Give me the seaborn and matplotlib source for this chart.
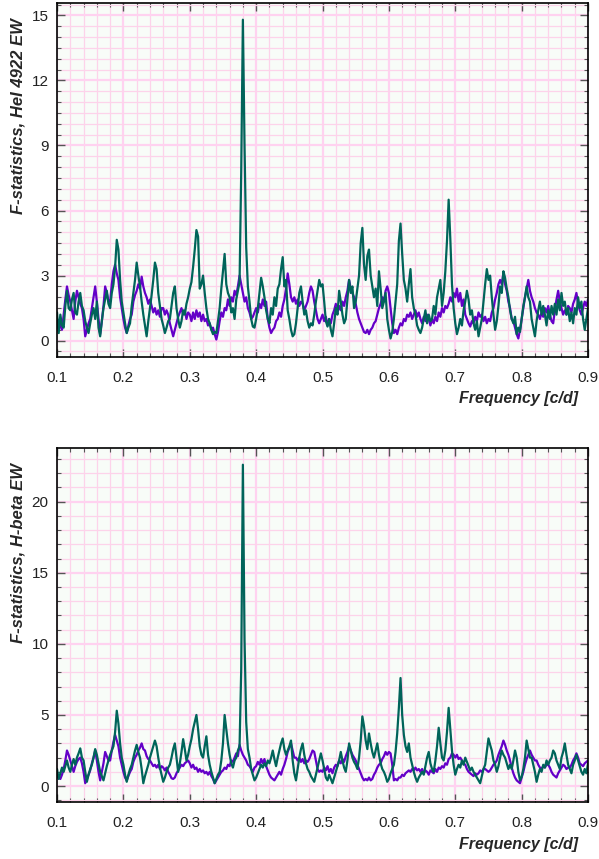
import numpy as np
import pandas as pd
import matplotlib
matplotlib.use('Agg')
import matplotlib.pyplot as plt
from matplotlib.ticker import MultipleLocator
import seaborn as sns

# Frequency grid [c/d], one value every 0.0025
freq = np.round(np.linspace(0.1, 0.9, 321), 4)

# F-statistics, HeI 4922 EW (top panel), one row per 0.05 c/d
purple_hei = [
    0.6, 0.95, 0.7, 0.5, 1.2, 1.9, 2.5, 2.1, 1.8, 1.4, 1.0, 1.8, 2.3, 2.0, 1.7, 1.5, 1.0, 0.2, 0.5, 0.8,
    1.0, 1.5, 2.0, 2.5, 1.8, 1.0, 0.3, 0.9, 1.6, 2.5, 2.2, 1.8, 1.8, 2.6, 3.2, 3.5, 3.1, 2.8, 2.0, 1.5,
    1.0, 0.6, 0.35, 0.7, 1.0, 1.2, 1.8, 2.1, 2.3, 2.6, 2.4, 2.95, 2.5, 2.2, 2.0, 1.7, 1.9, 1.6, 1.3, 1.5,
    1.2, 1.4, 1.1, 1.5, 1.5, 1.2, 1.4, 1.2, 0.8, 0.5, 0.2, 0.5, 0.8, 1.1, 1.3, 1.5, 1.2, 1.4, 1.0, 1.3,
    1.2, 0.9, 1.3, 1.0, 1.4, 1.1, 1.3, 0.9, 1.2, 0.9, 1.0, 0.7, 0.8, 0.5, 0.6, 0.3, 0.05, 0.4, 0.9, 1.3,
    1.1, 1.5, 1.4, 1.9, 1.6, 2.0, 1.8, 2.3, 2.1, 2.5, 3.0, 2.6, 2.2, 1.8, 2.0, 1.5, 1.3, 1.0, 1.1, 1.3,
    1.5, 1.3, 1.7, 1.5, 1.9, 1.6, 1.8, 1.0, 0.6, 0.35, 0.5, 0.6, 0.9, 1.0, 1.3, 1.1, 1.6, 1.9, 2.4, 3.1,
    2.6, 2.0, 1.8, 2.0, 1.7, 1.9, 1.6, 1.8, 1.7, 1.4, 1.6, 1.8, 2.2, 2.5, 2.3, 1.8, 1.4, 1.0, 0.8, 1.0,
    1.2, 0.9, 1.1, 0.7, 1.0, 0.8, 1.2, 1.4, 1.7, 1.3, 1.6, 1.4, 1.8, 1.6, 2.0, 2.3, 2.8, 2.4, 2.2, 2.0,
    1.7, 1.3, 1.0, 0.8, 0.6, 0.4, 0.35, 0.5, 0.3, 0.5, 0.6, 0.8, 0.9, 1.2, 1.5, 1.7, 2.0, 1.8, 2.3, 2.5,
    2.2, 1.5, 0.8, 0.35, 0.5, 0.3, 0.6, 0.8, 0.7, 1.0, 0.9, 1.2, 1.1, 1.3, 1.0, 1.2, 1.4, 1.1, 1.3, 1.0,
    0.8, 1.1, 0.9, 1.2, 1.0, 0.7, 1.0, 0.8, 1.1, 0.9, 1.3, 1.1, 1.5, 1.3, 1.6, 1.5, 1.7, 2.0, 1.8, 2.2,
    2.0, 2.4, 1.8, 2.2, 1.6, 1.9, 1.2, 1.0, 0.8, 0.65, 0.9, 0.8, 1.1, 0.9, 1.3, 1.1, 1.2, 0.9, 1.1, 0.8,
    1.0, 0.9, 1.3, 1.5, 1.9, 2.2, 2.6, 2.8, 2.6, 3.1, 2.6, 2.3, 1.8, 1.5, 1.0, 0.9, 0.6, 0.3, 0.1, 0.5,
    1.0, 1.5, 2.0, 2.4, 2.8, 2.3, 2.0, 1.8, 1.5, 1.3, 1.2, 1.0, 1.3, 1.1, 1.5, 1.3, 1.6, 1.2, 0.9, 0.8,
    1.4, 1.9, 2.3, 1.8, 1.5, 1.2, 1.4, 1.2, 1.6, 1.5, 1.3, 1.7, 1.9, 2.2, 1.7, 1.4, 1.2, 1.5, 1.8, 1.6,
    1.9,
]
teal_hei = [
    1.3, 0.35, 1.2, 0.7, 0.6, 1.6, 2.3, 1.5, 1.4, 1.9, 2.2, 1.3, 1.2, 1.8, 2.2, 1.6, 1.4, 0.9, 0.6, 0.35,
    0.8, 1.2, 1.5, 1.0, 1.8, 0.6, 0.2, 0.9, 1.5, 1.9, 2.3, 1.7, 1.5, 2.2, 2.6, 3.4, 4.65, 4.2, 2.8, 1.8,
    1.3, 0.8, 0.35, 0.6, 0.8, 1.6, 2.2, 2.8, 3.6, 3.0, 2.5, 1.8, 1.2, 0.7, 0.2, 0.9, 1.5, 2.1, 2.8, 3.6,
    3.3, 2.2, 1.6, 1.0, 0.7, 0.35, 0.6, 0.9, 1.0, 1.6, 2.2, 2.5, 1.5, 1.0, 0.6, 0.9, 1.4, 1.2, 1.7, 2.0,
    2.4, 2.7, 3.4, 4.2, 5.1, 4.8, 2.4, 2.6, 3.0, 2.2, 1.5, 1.0, 0.8, 0.5, 0.3, 0.4, 0.35, 0.9, 1.5, 2.4,
    3.2, 4.0, 2.6, 2.2, 2.0, 1.3, 1.5, 1.0, 1.9, 2.3, 2.7, 7.8, 14.8, 9.0, 4.3, 2.5, 1.8, 1.0, 0.65, 0.6,
    1.0, 1.5, 2.2, 2.9, 2.5, 2.0, 1.4, 1.0, 0.8, 1.5, 1.2, 2.0, 1.6, 2.4, 2.6, 3.3, 3.85, 2.5, 2.8, 1.4,
    1.0, 0.5, 0.2, 0.3, 0.8, 1.5, 2.2, 2.5, 1.8, 1.2, 1.4, 0.9, 0.6, 0.8, 0.7, 1.2, 1.8, 2.3, 2.8, 2.5,
    2.6, 1.8, 0.9, 0.65, 1.0, 0.5, 0.2, 0.8, 1.5, 1.2, 2.3, 1.8, 1.2, 0.8, 1.0, 1.9, 2.8, 2.2, 2.5, 1.5,
    1.8, 2.4, 3.0, 4.5, 5.2, 3.5, 2.8, 3.9, 4.2, 3.0, 2.5, 2.0, 2.4, 1.6, 3.2, 2.4, 1.5, 1.8, 2.2, 1.0,
    0.5, 0.1, 0.4, 1.0, 1.8, 2.6, 4.6, 5.4, 4.0, 2.8, 2.4, 1.8, 2.6, 3.3, 2.0, 1.5, 1.2, 0.7, 0.5, 0.35,
    0.6, 1.0, 1.4, 0.8, 1.2, 0.9, 1.0, 1.6, 1.2, 2.0, 2.4, 2.8, 1.6, 2.2, 3.2, 4.6, 6.5, 4.7, 2.6, 1.5,
    0.8, 0.3, 0.6, 1.0, 0.7, 1.4, 1.8, 2.3, 1.9, 1.2, 1.4, 0.8, 0.5, 0.9, 0.2, 0.6, 1.0, 1.8, 2.6, 3.3,
    2.8, 3.0, 2.0, 1.2, 0.5, 0.9, 1.6, 2.5, 2.2, 3.2, 2.9, 2.4, 2.0, 1.4, 1.0, 0.8, 1.1, 0.3, 0.6, 0.4,
    1.0, 1.6, 2.0, 2.5, 2.0, 1.8, 1.0, 0.6, 0.2, 0.9, 1.4, 1.8, 1.2, 1.6, 1.2, 0.7, 1.4, 1.0, 1.6, 1.2,
    1.7, 1.2, 1.9, 1.4, 2.2, 1.6, 1.8, 1.2, 1.5, 0.9, 1.3, 0.8, 1.5, 1.2, 2.0, 1.5, 1.8, 1.0, 0.5, 1.0,
    1.5,
]

# F-statistics, H-beta EW (bottom panel)
purple_hbeta = [
    0.65, 0.6, 0.5, 0.8, 1.2, 1.8, 2.5, 2.2, 1.8, 1.4, 1.0, 1.4, 1.7, 1.9, 2.0, 1.6, 1.0, 0.2, 0.5, 0.8,
    1.1, 1.6, 2.0, 2.5, 1.8, 1.0, 0.4, 1.0, 1.6, 2.4, 2.1, 1.8, 1.8, 2.5, 3.1, 3.6, 3.2, 2.8, 2.0, 1.5,
    1.0, 0.6, 0.4, 0.7, 1.0, 1.2, 1.7, 2.0, 2.2, 2.5, 2.7, 3.0, 2.6, 2.5, 2.1, 1.9, 1.8, 1.6, 1.4, 1.5,
    1.3, 1.5, 1.2, 1.4, 1.3, 1.1, 1.3, 1.0, 0.8, 0.55, 0.5, 0.6, 0.9, 1.1, 1.3, 1.5, 1.4, 1.6, 1.7, 1.8,
    1.6, 1.3, 1.5, 1.2, 1.3, 1.0, 1.2, 1.0, 1.1, 0.9, 1.0, 0.8, 1.0, 0.7, 0.5, 0.2, 0.4, 0.6, 0.8, 1.0,
    1.1, 1.3, 1.2, 1.5, 1.4, 1.8, 1.7, 2.0, 2.3, 2.1, 2.9, 2.5, 2.2, 2.0, 1.8, 1.5, 1.4, 1.2, 1.0, 1.3,
    1.4, 1.7, 1.5, 1.9, 1.6, 1.9, 1.4, 1.1, 0.8, 0.6, 0.5, 0.4, 0.6, 0.8, 1.0, 0.8, 1.2, 1.5, 1.9, 2.4,
    2.7, 3.0, 2.5, 2.0, 2.0, 1.8, 2.0, 1.7, 1.9, 1.6, 1.8, 1.7, 1.9, 2.2, 2.5, 2.4, 1.8, 1.2, 1.0, 1.1,
    1.0, 1.3, 1.1, 1.4, 1.0, 1.2, 0.9, 1.3, 1.5, 1.4, 1.8, 1.6, 1.9, 1.7, 2.1, 2.4, 2.8, 2.5, 2.2, 2.0,
    1.8, 1.5, 1.2, 0.9, 0.6, 0.4, 0.5, 0.4, 0.6, 0.4, 0.5, 0.8, 1.0, 1.3, 1.5, 1.6, 1.9, 2.1, 2.4, 2.2,
    2.4, 2.3, 1.5, 0.4, 0.5, 0.4, 0.6, 0.6, 0.8, 0.7, 0.9, 1.0, 1.1, 1.0, 1.2, 1.1, 1.3, 1.1, 1.2, 1.0,
    1.2, 0.9, 1.1, 1.0, 0.8, 1.1, 1.0, 0.9, 1.2, 1.0, 1.3, 1.2, 1.4, 1.3, 1.6, 1.5, 1.9, 2.0, 2.3, 2.2,
    2.0, 2.2, 1.9, 2.0, 1.8, 1.6, 1.5, 1.2, 1.0, 0.9, 0.8, 0.7, 0.9, 0.8, 0.9, 1.1, 1.0, 1.2, 1.2, 1.1,
    1.0, 1.1, 1.3, 1.5, 1.6, 1.8, 2.2, 2.5, 2.8, 3.2, 2.9, 2.5, 2.2, 1.8, 1.3, 0.9, 0.6, 0.4, 0.3, 0.2,
    0.6, 1.0, 1.5, 1.9, 2.2, 2.5, 2.2, 2.0, 1.8, 1.8, 1.5, 1.3, 1.2, 1.4, 1.3, 1.5, 1.5, 1.3, 1.0, 0.8,
    0.7, 0.6, 0.9, 1.1, 1.3, 1.5, 1.4, 1.2, 1.3, 1.3, 1.5, 1.8, 2.0, 2.3, 2.0, 1.6, 1.5, 1.4, 1.6, 1.7,
    1.8,
]
teal_hbeta = [
    1.2, 0.5, 0.9, 1.3, 1.0, 1.4, 1.8, 1.3, 1.0, 1.5, 1.9, 1.5, 2.0, 2.3, 2.65, 2.0, 1.8, 1.0, 0.3, 0.8,
    1.2, 1.5, 2.0, 2.6, 2.2, 1.6, 1.0, 0.7, 0.4, 0.9, 1.4, 1.8, 2.2, 2.5, 2.8, 3.8, 5.3, 4.4, 3.0, 2.0,
    1.5, 0.8, 0.3, 0.8, 1.2, 1.5, 2.0, 2.5, 2.9, 2.4, 2.0, 1.2, 0.2, 0.7, 1.1, 1.5, 2.0, 2.4, 2.8, 3.2,
    2.8, 2.0, 1.3, 0.8, 0.3, 0.6, 1.0, 1.3, 1.5, 2.0, 2.6, 3.0, 2.0, 1.0, 1.6, 2.4, 3.3, 2.6, 1.8, 2.2,
    2.8, 3.3, 4.0, 4.5, 5.0, 4.0, 2.8, 2.2, 2.0, 2.8, 3.5, 2.2, 1.5, 1.0, 0.6, 0.2, 0.5, 0.8, 1.0, 1.8,
    3.0, 5.0, 4.0, 3.0, 2.2, 1.6, 1.3, 1.8, 2.0, 2.5, 2.8, 8.2, 22.6, 10.3, 4.5, 2.6, 2.0, 1.2, 0.8, 0.4,
    0.6, 0.9, 1.2, 1.5, 1.3, 1.6, 1.4, 1.8, 1.6, 2.0, 2.5, 1.9, 1.4, 2.0, 2.5, 3.0, 3.35, 2.6, 2.2, 2.5,
    2.8, 3.2, 1.8, 0.9, 0.4, 1.2, 2.0, 2.6, 3.0, 2.2, 1.6, 1.2, 1.0, 0.7, 0.5, 0.3, 0.8, 1.3, 1.8, 2.3,
    1.8, 1.2, 0.6, 0.4, 0.8, 0.5, 0.2, 0.6, 1.0, 1.4, 1.8, 2.4, 1.8, 1.3, 1.0, 1.8, 3.0, 2.5, 2.0, 1.7,
    1.5, 1.2, 2.0, 3.2, 4.9, 4.2, 3.2, 2.6, 3.7, 3.0, 2.4, 2.0, 2.5, 3.0, 2.2, 1.6, 1.2, 1.0, 0.7, 0.3,
    0.5, 0.9, 1.2, 1.5, 2.4, 3.7, 5.5, 7.6, 5.0, 3.6, 2.8, 2.4, 3.0, 2.0, 1.5, 1.0, 0.6, 0.3, 0.6, 0.8,
    1.0, 0.8, 1.4, 2.0, 2.4, 1.6, 1.2, 1.0, 1.8, 2.8, 4.1, 3.0, 2.0, 1.8, 2.5, 3.8, 5.5, 4.0, 2.5, 1.5,
    0.8, 1.2, 1.5, 1.3, 1.8, 1.5, 2.0, 1.7, 1.4, 1.1, 1.3, 1.0, 0.8, 0.6, 0.4, 0.2, 0.7, 1.2, 1.5, 2.4,
    3.35, 2.9, 2.5, 1.8, 1.5, 1.0, 1.4, 2.0, 2.5, 2.2, 2.0, 1.6, 1.2, 1.5, 1.2, 1.8, 2.5, 2.0, 1.0, 0.4,
    0.65, 1.2, 2.0, 3.2, 2.6, 2.0, 2.0, 1.5, 1.0, 0.3, 0.8, 1.2, 1.0, 1.5, 1.3, 1.8, 1.5, 1.8, 2.0, 2.5,
    2.3, 1.8, 1.5, 1.2, 2.0, 2.4, 3.0, 2.2, 1.5, 1.2, 0.9, 1.5, 1.8, 2.2, 1.8, 1.4, 1.0, 0.8, 1.2, 0.9,
    1.6,
]

sns.set_theme(style='ticks')
plt.rcParams['font.family'] = ['Liberation Sans', 'DejaVu Sans']

PURPLE = '#6400c8'
TEAL = '#00645a'

fig = plt.figure(figsize=(5.99, 8.59), dpi=100)
fig.patch.set_facecolor('white')
ax_top = fig.add_axes([0.0952, 0.5840, 0.8865, 0.4120])
ax_bot = fig.add_axes([0.0952, 0.0667, 0.8865, 0.4115])


def draw_panel(ax, purple, teal, ylim, ystep, yminor, ylabel, xlab_y):
    df = pd.DataFrame({'freq': freq, 'purple': purple, 'teal': teal})
    ax.set_facecolor('#f8fcf8')
    sns.lineplot(data=df, x='freq', y='purple', color=PURPLE, linewidth=1.6,
                 estimator=None, sort=False, ax=ax)
    sns.lineplot(data=df, x='freq', y='teal', color=TEAL, linewidth=1.6,
                 estimator=None, sort=False, ax=ax)

    ax.set_xlim(0.1, 0.9)
    ax.set_ylim(*ylim)
    ax.xaxis.set_major_locator(MultipleLocator(0.1))
    ax.xaxis.set_minor_locator(MultipleLocator(0.02))
    ax.yaxis.set_major_locator(MultipleLocator(ystep))
    ax.yaxis.set_minor_locator(MultipleLocator(yminor))

    # pink graph-paper grid
    ax.grid(which='major', color='#ffd2f0', linewidth=1.6)
    ax.grid(which='minor', color='#fdd3ea', linewidth=0.9)
    ax.set_axisbelow(True)

    ax.tick_params(which='both', direction='in', top=True, right=True)
    ax.tick_params(which='major', length=6, width=1.0, labelsize=11,
                   color='#555555', labelcolor='#222222')
    ax.tick_params(which='minor', length=3, width=0.8, color='#555555')
    ax.tick_params(axis='x', which='major', pad=10)
    ax.tick_params(axis='y', which='major', pad=6)
    for sp in ax.spines.values():
        sp.set_color('black')
        sp.set_linewidth(1.2)

    ax.set_ylabel(ylabel, fontsize=12, fontweight='bold', fontstyle='italic')
    ax.yaxis.set_label_coords(-0.073, 0.958)
    ax.yaxis.label.set_rotation_mode('anchor')
    ax.yaxis.label.set_ha('right')
    ax.yaxis.label.set_va('center')
    ax.set_xlabel('Frequency [c/d]', fontsize=11.5, fontweight='bold', fontstyle='italic')
    ax.xaxis.set_label_coords(0.981, xlab_y)
    ax.xaxis.label.set_ha('right')
    ax.xaxis.label.set_va('center')


draw_panel(ax_top, purple_hei, teal_hei, (-0.77, 15.55), 3, 0.5,
           'F-statistics, HeI 4922 EW', -0.115)
draw_panel(ax_bot, purple_hbeta, teal_hbeta, (-1.1, 23.76), 5, 1,
           'F-statistics, H-beta EW', -0.122)

fig.savefig('out.png', dpi=100)
